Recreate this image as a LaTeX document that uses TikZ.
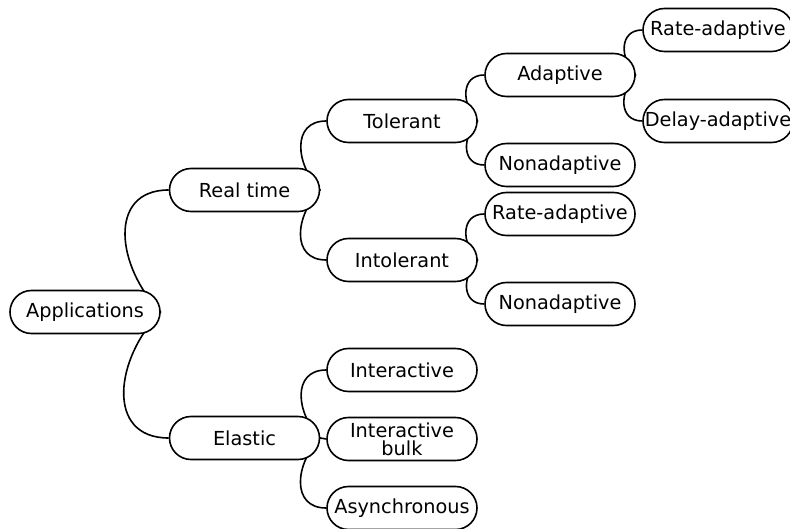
\documentclass[tikz,border=0pt]{standalone}
\usepackage{fontspec}
\setmainfont{DejaVu Sans}
\usetikzlibrary{backgrounds}
\begin{document}
\begin{tikzpicture}[x=1pt,y=-1pt,
  pill/.style={draw, fill=white, line width=1.6pt, rounded corners=21.5pt,
    minimum width=150pt, minimum height=43pt, inner sep=0pt,
    font=\fontsize{19.3}{18}\selectfont, align=center},
  link/.style={draw, line width=1.6pt, looseness=1.3},
  up/.style={link, out=135, in=180},
  down/.style={link, out=225, in=180}]
\useasboundingbox (0,0) rectangle (790,529);

% nodes of the tree, left to right
\node[pill] (app)   at (85,312)  {Applications};
\node[pill] (rt)    at (244.5,190) {Real time};
\node[pill] (el)    at (244.5,438) {Elastic};
\node[pill] (tol)   at (402,121) {Tolerant};
\node[pill] (intol) at (402,260) {Intolerant};
\node[pill] (inter) at (402,370) {Interactive};
\node[pill] (ibulk) at (402,439) {Interactive\\bulk};
\node[pill] (async) at (402,508) {Asynchronous};
\node[pill] (adapt) at (560,75)  {Adaptive};
\node[pill] (nona)  at (560,165) {Nonadaptive};
\node[pill] (rateb) at (560,214) {Rate-adaptive};
\node[pill] (nonb)  at (560,304) {Nonadaptive};
\node[pill] (ratea) at (718,30)  {Rate-adaptive};
\node[pill] (delay) at (718,121) {Delay-adaptive};

% curved links behind the boxes
\begin{scope}[on background layer]
  \fill[white] (0,0) rectangle (790,529);
  \draw[up]   (app.east) to (rt.west);
  \draw[down] (app.east) to (el.west);
  \draw[up]   (rt.east) to (tol.west);
  \draw[down] (rt.east) to (intol.west);
  \draw[up]   (tol.east) to (adapt.west);
  \draw[down] (tol.east) to (nona.west);
  \draw[up]   (adapt.east) to (ratea.west);
  \draw[down] (adapt.east) to (delay.west);
  \draw[up]   (intol.east) to (rateb.west);
  \draw[down] (intol.east) to (nonb.west);
  \draw[up]   (el.east) to (inter.west);
  \draw[link] (el.east) -- (ibulk.west);
  \draw[down] (el.east) to (async.west);
\end{scope}
\end{tikzpicture}
\end{document}
